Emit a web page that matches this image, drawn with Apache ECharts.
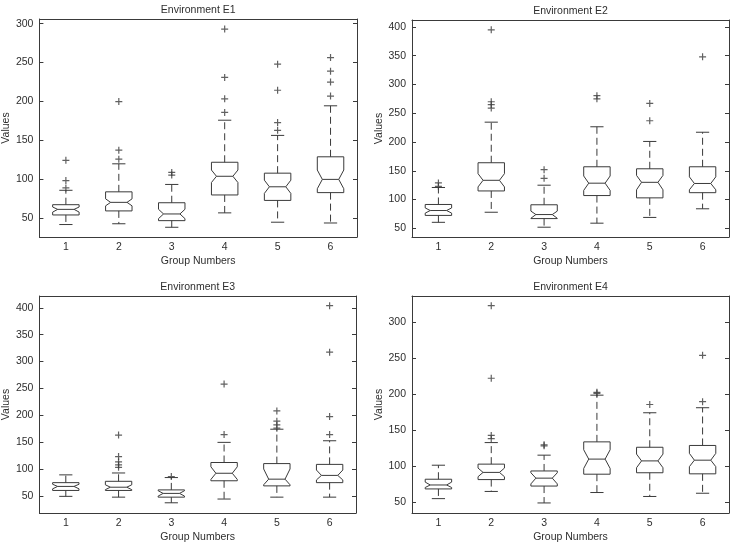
<!DOCTYPE html>
<html>
<head>
    <meta charset="UTF-8">
    <title>Environment boxplots</title>
    <script src="https://cdn.jsdelivr.net/npm/echarts@6/dist/echarts.min.js"></script>
    <style>
      html, body { margin: 0; padding: 0; background: #fff; }
      #container { width: 734px; height: 544px; }
    </style>
</head>
<body>
<div id="container"></div>
<script>
    var groups = ['1', '2', '3', '4', '5', '6'];
    var titles = ['Environment E1', 'Environment E2', 'Environment E3', 'Environment E4'];

    // each row: [lower whisker, q1, notch low, median, notch high, q3, upper whisker]
    var e1Boxes = [
        [42, 54.3, 58, 61.5, 64.5, 67.5, 86],
        [43, 59.5, 66, 70.5, 75, 84, 120],
        [38.5, 47, 49.6, 55.6, 61.6, 70, 93.5],
        [57, 80, 96, 104, 112, 122, 176],
        [45, 73, 82, 90.5, 99, 108, 156.5],
        [44, 83, 88, 100, 112, 129, 194.5]
    ];
    var e2Boxes = [
        [60.5, 72.5, 76.5, 81, 85.5, 91.5, 121],
        [78, 115, 122, 133.5, 145, 164, 234.5],
        [52, 67, 67.5, 74, 80, 91, 125],
        [59, 107, 116, 128.5, 141, 157, 226.5],
        [69, 103, 117, 130, 142, 153.5, 201],
        [84, 112, 117, 128, 139.5, 157, 217]
    ];
    var e3Boxes = [
        [49, 60, 63, 67.5, 71.5, 74.5, 89],
        [47.5, 60, 61.5, 66, 70.5, 77, 92.5],
        [37, 47.5, 49.5, 54.5, 59.5, 61, 84],
        [44, 78, 80.5, 92, 104, 112, 149.5],
        [47.5, 68.5, 70.5, 81, 100, 110, 174],
        [47.5, 74.5, 79.5, 88, 98, 108.5, 152.5]
    ];
    var e4Boxes = [
        [55, 68.5, 70.5, 74, 78, 82, 101.5],
        [65, 81.5, 85.5, 91.5, 97.5, 103, 133],
        [49, 72.5, 75.5, 83.5, 91, 93.5, 115.5],
        [63.5, 89, 97, 110, 123, 134, 199],
        [58, 91, 98, 107.5, 117, 126.5, 174.5],
        [62.5, 89.5, 99.5, 108.5, 118, 129, 181.5]
    ];

    // [group index, value]
    var e1Outliers = [[0, 124.5], [0, 98.5], [0, 89], [1, 200], [1, 137.5], [1, 126],
        [2, 109], [2, 105.5], [3, 293], [3, 231], [3, 203.5], [3, 186],
        [4, 248], [4, 214.5], [4, 173], [4, 163], [5, 256.5], [5, 239], [5, 225], [5, 207]];
    var e2Outliers = [[0, 129], [0, 123], [1, 395], [1, 270], [1, 265], [1, 259],
        [2, 152], [2, 137], [3, 280.5], [3, 275], [4, 267], [4, 237], [5, 348]];
    var e3Outliers = [[1, 163], [1, 123], [1, 113], [1, 107.5], [1, 103], [2, 86],
        [3, 258], [3, 164], [4, 208], [4, 189], [4, 182], [4, 176],
        [5, 404], [5, 317.5], [5, 197.5], [5, 164]];
    var e4Outliers = [[1, 323.5], [1, 222.5], [1, 143], [1, 138.5], [2, 130], [2, 128.5],
        [3, 203], [3, 201.5], [4, 186], [5, 254.5], [5, 190]];

    var yMins = [26, 35, 18, 35];
    var yMaxs = [306, 412, 422, 337];
    var ySplits = [5, 7, 7, 6];

    var allBoxes = [e1Boxes, e2Boxes, e3Boxes, e4Boxes];
    var allOutliers = [e1Outliers, e2Outliers, e3Outliers, e4Outliers];

    var grids = [
        {left: 39, top: 19, width: 318, height: 218},
        {left: 412, top: 20, width: 317, height: 217},
        {left: 39, top: 296, width: 317, height: 217},
        {left: 412, top: 296, width: 317, height: 217}
    ];

    var lineCol = '#3a3a3a';
    var textCol = '#2e2e2e';
    var fontFam = '"Liberation Sans", Arial, sans-serif';

    function renderBox(params, api) {
        var x = api.value(0);
        var c = function (v) { return api.coord([x, v]); };
        var band = api.size([1, 0])[0];
        var hw = band * 0.25, ind = band * 0.095, cw = band * 0.125;
        var lo = c(api.value(1)), q1 = c(api.value(2)), nlo = c(api.value(3));
        var med = c(api.value(4)), nhi = c(api.value(5)), q3 = c(api.value(6)), hi = c(api.value(7));
        var cx = med[0];
        var pts = [
            [cx - hw, q3[1]], [cx + hw, q3[1]], [cx + hw, nhi[1]], [cx + hw - ind, med[1]],
            [cx + hw, nlo[1]], [cx + hw, q1[1]], [cx - hw, q1[1]], [cx - hw, nlo[1]],
            [cx - hw + ind, med[1]], [cx - hw, nhi[1]]
        ];
        var solid = {stroke: lineCol, lineWidth: 1, fill: null};
        var dashed = {stroke: lineCol, lineWidth: 1, lineDash: [7, 4]};
        return {
            type: 'group',
            children: [
                {type: 'polygon', shape: {points: pts}, style: solid},
                {type: 'line', shape: {x1: cx - hw + ind, y1: med[1], x2: cx + hw - ind, y2: med[1]}, style: solid},
                {type: 'line', shape: {x1: cx, y1: q3[1], x2: cx, y2: hi[1]}, style: dashed},
                {type: 'line', shape: {x1: cx, y1: q1[1], x2: cx, y2: lo[1]}, style: dashed},
                {type: 'line', shape: {x1: cx - cw, y1: hi[1], x2: cx + cw, y2: hi[1]}, style: solid},
                {type: 'line', shape: {x1: cx - cw, y1: lo[1], x2: cx + cw, y2: lo[1]}, style: solid}
            ]
        };
    }

    var option = {
        backgroundColor: '#fff',
        animation: false,
        grid: grids,
        xAxis: [],
        yAxis: [],
        series: []
    };

    for (var i = 0; i < 4; i++) {
        var lbl = {color: textCol, fontSize: 10.5, fontFamily: fontFam};
        option.xAxis.push({
            type: 'category', gridIndex: i, data: groups, position: 'bottom',
            boundaryGap: true,
            name: 'Group Numbers', nameLocation: 'middle', nameGap: 19,
            nameTextStyle: lbl,
            axisLine: {lineStyle: {color: lineCol}},
            axisTick: {inside: true, alignWithLabel: true, length: 4, lineStyle: {color: lineCol}},
            axisLabel: {color: textCol, fontSize: 10.5, fontFamily: fontFam, margin: 5},
            splitLine: {show: false}
        });
        option.xAxis.push({
            type: 'category', gridIndex: i, data: groups, position: 'top',
            boundaryGap: true,
            name: titles[i], nameLocation: 'middle', nameGap: 3,
            nameTextStyle: lbl,
            axisLine: {lineStyle: {color: lineCol}},
            axisTick: {inside: true, alignWithLabel: true, length: 4, lineStyle: {color: lineCol}},
            axisLabel: {show: false},
            splitLine: {show: false}
        });
        option.yAxis.push({
            type: 'value', gridIndex: i, position: 'left',
            min: yMins[i], max: yMaxs[i], splitNumber: ySplits[i],
            name: 'Values', nameLocation: 'middle', nameGap: 26,
            nameTextStyle: lbl,
            axisLine: {show: true, lineStyle: {color: lineCol}},
            axisTick: {show: true, inside: true, length: 4, lineStyle: {color: lineCol}},
            axisLabel: {color: textCol, fontSize: 10.5, fontFamily: fontFam, margin: 6,
                showMinLabel: false, showMaxLabel: false},
            splitLine: {show: false}
        });
        option.yAxis.push({
            type: 'value', gridIndex: i, position: 'right',
            min: yMins[i], max: yMaxs[i], splitNumber: ySplits[i],
            axisLine: {show: true, lineStyle: {color: lineCol}},
            axisTick: {show: true, inside: true, length: 4, lineStyle: {color: lineCol}},
            axisLabel: {show: false},
            splitLine: {show: false}
        });

        var boxData = allBoxes[i].map(function (b, k) { return [k].concat(b); });
        option.series.push({
            type: 'custom',
            xAxisIndex: 2 * i, yAxisIndex: 2 * i,
            renderItem: renderBox,
            encode: {x: 0, y: [1, 2, 3, 4, 5, 6, 7]},
            data: boxData,
            clip: false,
            silent: true
        });
        option.series.push({
            type: 'scatter',
            xAxisIndex: 2 * i, yAxisIndex: 2 * i,
            symbol: 'path://M0,5L10,5M5,0L5,10',
            symbolSize: 7,
            itemStyle: {color: 'transparent', borderColor: lineCol, borderWidth: 1.2},
            data: allOutliers[i],
            silent: true
        });
    }

    var myChart = echarts.init(document.getElementById('container'));
    myChart.setOption(option);
</script>
</body>
</html>
